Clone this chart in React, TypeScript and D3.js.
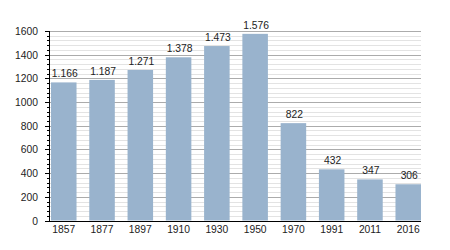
import React from "react";
import * as d3 from "d3";

const years = ["1857", "1877", "1897", "1910", "1930", "1950", "1970", "1991", "2011", "2016"];
const population = [1166, 1187, 1271, 1378, 1473, 1576, 822, 432, 347, 306];
const yTicks = [0, 200, 400, 600, 800, 1000, 1200, 1400, 1600];

const W = 450;
const H = 250;
const left = 50;
const right = 421;
const top = 31;
const bottom = 220.5;

export default function App() {
  const x = d3.scaleBand<string>().domain(years).range([51, right]).paddingInner(0.333).paddingOuter(0);
  const y = d3.scaleLinear().domain([0, 1600]).range([bottom, top]);
  const minor = d3.range(0, 1601, 40).filter((v) => v % 200 !== 0);
  const fmt = (v: number) => d3.format(",")(v).replace(/,/g, ".");
  const font = "'Liberation Sans', Arial, sans-serif";
  const fs = 10.3;
  return (
    <svg width={W} height={H} style={{ position: "absolute", left: 0, top: 0 }} fontFamily={font}>
      <rect width={W} height={H} fill="#fff" />
      {minor.map((v) => (
        <line key={"m" + v} x1={left} x2={right} y1={Math.round(y(v)) + 0.5} y2={Math.round(y(v)) + 0.5} stroke="#e3e3e3" strokeWidth={1} />
      ))}
      {yTicks.map((v) => (
        <line key={"g" + v} x1={left} x2={right} y1={Math.round(y(v)) + 0.5} y2={Math.round(y(v)) + 0.5} stroke="#ababab" strokeWidth={1} />
      ))}
      {years.map((yr, i) => (
        <rect key={yr} x={x(yr)} y={y(population[i])} width={x.bandwidth()} height={bottom - y(population[i])} fill="#99b3cd" />
      ))}
      {years.map((yr, i) => (
        <text key={"v" + yr} x={(x(yr) as number) + x.bandwidth() / 2 + 1} y={y(population[i]) - 5} textAnchor="middle" fontSize={fs} fill="#222">
          {fmt(population[i])}
        </text>
      ))}
      {/* y axis */}
      <line x1={left - 0.5} x2={left - 0.5} y1={top} y2={bottom + 1} stroke="#000" strokeWidth={1} />
      {minor.map((v) => (
        <line key={"mt" + v} x1={left - 3} x2={left} y1={Math.round(y(v)) + 0.5} y2={Math.round(y(v)) + 0.5} stroke="#000" strokeWidth={1} />
      ))}
      {yTicks.map((v) => (
        <line key={"t" + v} x1={left - 5} x2={left} y1={Math.round(y(v)) + 0.5} y2={Math.round(y(v)) + 0.5} stroke="#000" strokeWidth={1} />
      ))}
      {yTicks.map((v) => (
        <text key={"yl" + v} x={38} y={y(v) + 4} textAnchor="end" fontSize={fs} fill="#222">
          {v}
        </text>
      ))}
      {/* x axis */}
      <line x1={left - 1} x2={right} y1={Math.round(bottom) + 0.5} y2={Math.round(bottom) + 0.5} stroke="#000" strokeWidth={1.2} />
      {years.map((yr) => (
        <text key={"xl" + yr} x={(x(yr) as number) + x.bandwidth() / 2} y={232.5} textAnchor="middle" fontSize={fs} fill="#222">
          {yr}
        </text>
      ))}
    </svg>
  );
}
